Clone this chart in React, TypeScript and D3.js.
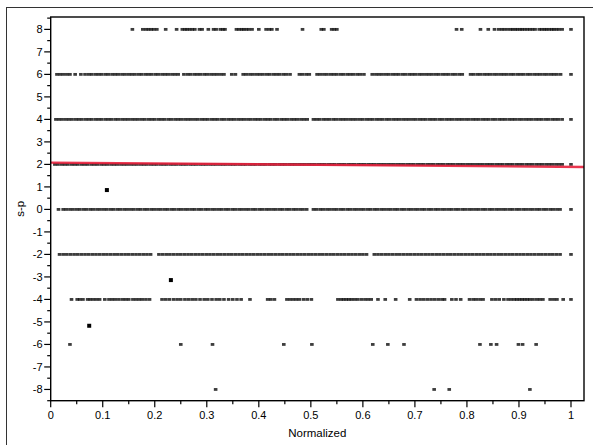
import React from "react";
import * as d3 from "d3";

// Observations at each integer level of s-p (x = normalized position)
const row8 = [0.157,0.177,0.183,0.188,0.193,0.198,0.204,0.221,0.242,0.253,0.258,0.262,0.267,0.272,0.277,0.286,0.291,0.303,0.313,0.318,0.326,0.331,0.335,0.357,0.362,0.367,0.371,0.376,0.381,0.387,0.400,0.414,0.420,0.425,0.435,0.484,0.520,0.525,0.540,0.545,0.550,0.780,0.790,0.826,0.841,0.853,0.861,0.867,0.872,0.878,0.884,0.888,0.893,0.897,0.902,0.906,0.911,0.916,0.921,0.926,0.931,0.939,0.944,0.949,0.953,0.958,0.963,0.967,0.972,0.977,0.983,1.0];

const row6 = [0.012,0.018,0.024,0.031,0.037,0.047,0.058,0.066,0.073,0.079,0.086,0.092,0.098,0.105,0.111,0.118,0.124,0.130,0.137,0.143,0.150,0.156,0.162,0.169,0.175,0.182,0.188,0.194,0.201,0.207,0.214,0.220,0.226,0.233,0.239,0.245,0.256,0.263,0.269,0.276,0.282,0.288,0.295,0.301,0.308,0.314,0.320,0.327,0.333,0.348,0.355,0.370,0.376,0.383,0.389,0.396,0.402,0.408,0.415,0.421,0.428,0.434,0.440,0.447,0.453,0.460,0.478,0.484,0.491,0.497,0.512,0.518,0.525,0.531,0.538,0.544,0.550,0.557,0.563,0.570,0.576,0.582,0.589,0.595,0.602,0.618,0.625,0.631,0.637,0.644,0.650,0.657,0.663,0.669,0.676,0.682,0.689,0.695,0.701,0.708,0.714,0.721,0.727,0.733,0.740,0.746,0.753,0.759,0.765,0.772,0.778,0.785,0.791,0.807,0.813,0.820,0.826,0.833,0.839,0.845,0.852,0.858,0.865,0.871,0.877,0.884,0.890,0.897,0.903,0.909,0.916,0.922,0.929,0.935,0.941,0.948,0.954,0.961,0.967,0.973,0.980,1.0];

const row4 = [0.010,0.016,0.022,0.029,0.035,0.041,0.048,0.054,0.060,0.067,0.073,0.079,0.086,0.092,0.098,0.105,0.111,0.117,0.124,0.130,0.137,0.143,0.149,0.156,0.162,0.168,0.175,0.181,0.188,0.194,0.200,0.207,0.213,0.219,0.226,0.232,0.239,0.245,0.251,0.258,0.264,0.270,0.277,0.283,0.290,0.296,0.302,0.309,0.315,0.321,0.328,0.334,0.341,0.347,0.353,0.360,0.366,0.372,0.379,0.385,0.392,0.398,0.404,0.411,0.417,0.423,0.430,0.436,0.443,0.449,0.455,0.462,0.468,0.474,0.481,0.487,0.493,0.505,0.511,0.517,0.524,0.530,0.536,0.543,0.549,0.556,0.562,0.568,0.575,0.581,0.587,0.594,0.600,0.607,0.613,0.619,0.626,0.632,0.638,0.645,0.651,0.658,0.664,0.670,0.677,0.683,0.689,0.696,0.702,0.709,0.715,0.721,0.728,0.734,0.740,0.747,0.753,0.760,0.766,0.772,0.779,0.785,0.791,0.798,0.804,0.811,0.817,0.823,0.830,0.836,0.842,0.849,0.855,0.862,0.868,0.874,0.881,0.887,0.893,0.900,0.906,0.913,0.919,0.925,0.932,0.938,0.944,0.951,0.957,0.964,0.970,0.976,0.983,1.0];

const row2 = [0.008,0.014,0.021,0.027,0.033,0.040,0.046,0.052,0.059,0.065,0.071,0.078,0.084,0.090,0.097,0.103,0.109,0.116,0.122,0.128,0.135,0.141,0.147,0.154,0.160,0.166,0.173,0.179,0.185,0.192,0.198,0.204,0.211,0.217,0.223,0.230,0.236,0.242,0.249,0.255,0.261,0.268,0.274,0.280,0.287,0.293,0.299,0.306,0.312,0.318,0.325,0.331,0.337,0.344,0.350,0.356,0.363,0.369,0.375,0.382,0.388,0.394,0.401,0.407,0.413,0.420,0.426,0.432,0.439,0.445,0.451,0.458,0.464,0.470,0.477,0.483,0.489,0.496,0.502,0.508,0.515,0.521,0.527,0.534,0.540,0.546,0.553,0.559,0.565,0.572,0.578,0.584,0.591,0.597,0.603,0.610,0.616,0.622,0.629,0.635,0.641,0.648,0.654,0.660,0.667,0.673,0.679,0.686,0.692,0.698,0.705,0.711,0.717,0.724,0.730,0.736,0.743,0.749,0.755,0.762,0.768,0.774,0.781,0.787,0.793,0.800,0.806,0.812,0.819,0.825,0.831,0.838,0.844,0.850,0.857,0.863,0.869,0.876,0.882,0.888,0.895,0.901,0.907,0.914,0.920,0.926,0.933,0.939,0.945,0.952,0.958,0.964,0.971,0.977,0.983,1.0];

const row0 = [0.015,0.024,0.030,0.037,0.043,0.050,0.056,0.063,0.069,0.076,0.082,0.089,0.095,0.102,0.108,0.115,0.121,0.128,0.134,0.141,0.147,0.154,0.160,0.167,0.173,0.180,0.186,0.193,0.199,0.206,0.212,0.219,0.225,0.232,0.238,0.245,0.251,0.258,0.264,0.271,0.277,0.284,0.290,0.297,0.303,0.310,0.316,0.323,0.329,0.336,0.342,0.349,0.355,0.362,0.368,0.375,0.381,0.388,0.394,0.401,0.407,0.414,0.420,0.427,0.433,0.440,0.446,0.453,0.459,0.466,0.472,0.479,0.485,0.492,0.505,0.511,0.518,0.524,0.531,0.537,0.544,0.550,0.557,0.563,0.570,0.576,0.583,0.589,0.596,0.602,0.609,0.615,0.622,0.628,0.635,0.641,0.648,0.654,0.661,0.667,0.674,0.680,0.687,0.693,0.700,0.706,0.713,0.719,0.726,0.732,0.739,0.745,0.752,0.758,0.765,0.771,0.778,0.784,0.791,0.797,0.804,0.810,0.817,0.823,0.830,0.836,0.843,0.849,0.856,0.862,0.869,0.875,0.882,0.888,0.895,0.901,0.908,0.914,0.921,0.927,0.934,0.940,0.947,0.953,0.960,0.966,0.973,0.979,1.0];

const rowM2 = [0.017,0.024,0.031,0.038,0.045,0.052,0.059,0.066,0.073,0.080,0.087,0.094,0.101,0.108,0.115,0.122,0.129,0.136,0.143,0.150,0.157,0.164,0.171,0.178,0.185,0.192,0.208,0.215,0.222,0.229,0.236,0.243,0.250,0.257,0.264,0.271,0.278,0.285,0.292,0.299,0.306,0.313,0.320,0.327,0.334,0.341,0.348,0.355,0.362,0.369,0.376,0.383,0.390,0.397,0.404,0.411,0.418,0.425,0.432,0.439,0.446,0.453,0.460,0.467,0.474,0.481,0.488,0.495,0.502,0.509,0.516,0.523,0.530,0.537,0.544,0.551,0.558,0.565,0.572,0.579,0.586,0.593,0.600,0.607,0.622,0.629,0.636,0.643,0.650,0.657,0.664,0.671,0.678,0.685,0.692,0.699,0.706,0.713,0.720,0.727,0.734,0.741,0.748,0.755,0.762,0.769,0.776,0.783,0.790,0.797,0.804,0.811,0.818,0.825,0.832,0.839,0.846,0.853,0.860,0.867,0.874,0.881,0.888,0.895,0.902,0.909,0.916,0.923,0.930,0.937,0.944,0.951,0.958,0.965,0.972,0.979,1.0];

const rowM4 = [0.040,0.051,0.056,0.062,0.071,0.076,0.082,0.088,0.094,0.104,0.112,0.118,0.124,0.131,0.138,0.144,0.150,0.158,0.164,0.170,0.176,0.183,0.190,0.214,0.221,0.228,0.236,0.243,0.250,0.258,0.265,0.272,0.279,0.287,0.295,0.302,0.310,0.318,0.325,0.333,0.342,0.350,0.358,0.366,0.383,0.417,0.423,0.430,0.454,0.460,0.466,0.472,0.478,0.486,0.493,0.501,0.552,0.558,0.563,0.568,0.573,0.578,0.584,0.590,0.597,0.604,0.610,0.616,0.629,0.643,0.663,0.690,0.703,0.710,0.717,0.724,0.731,0.738,0.745,0.752,0.757,0.771,0.779,0.788,0.805,0.812,0.818,0.825,0.831,0.848,0.855,0.862,0.871,0.879,0.885,0.891,0.896,0.901,0.906,0.911,0.916,0.921,0.927,0.934,0.940,0.946,0.960,0.967,0.973,0.985,1.0];

const rowM6 = [0.037,0.250,0.311,0.448,0.502,0.619,0.648,0.679,0.825,0.846,0.857,0.899,0.907,0.933];

const rowM8 = [0.317,0.737,0.766,0.921];

const levels: [number, number[]][] = [
  [8, row8], [6, row6], [4, row4], [2, row2], [0, row0],
  [-2, rowM2], [-4, rowM4], [-6, rowM6], [-8, rowM8],
];

// Off-level observations shown as larger markers
const markerX = [0.108, 0.231, 0.074];
const markerY = [0.86, -3.14, -5.17];

// Fitted trend line
const fitX = [0, 1.025];
const fitY = [2.08, 1.885];

const xTicks = [0, 0.1, 0.2, 0.3, 0.4, 0.5, 0.6, 0.7, 0.8, 0.9, 1];
const xMinor = [0.05, 0.15, 0.25, 0.35, 0.45, 0.55, 0.65, 0.75, 0.85, 0.95];
const yTicks = [-8, -7, -6, -5, -4, -3, -2, -1, 0, 1, 2, 3, 4, 5, 6, 7, 8];
const yMinor = [-8.5, -7.5, -6.5, -5.5, -4.5, -3.5, -2.5, -1.5, -0.5, 0.5, 1.5, 2.5, 3.5, 4.5, 5.5, 6.5, 7.5, 8.5];

const W = 593;
const H = 445;
const left = 50.7;
const right = 584;
const top = 17;
const bottom = 400.7;
const font = "'Liberation Sans', Arial, sans-serif";

export default function App() {
  const x = d3.scaleLinear().domain([0, 1.025]).range([left, right]);
  const y = d3.scaleLinear().domain([-8.5, 8.55]).range([bottom, top]);
  const fitLine = d3
    .line<number>()
    .x((_, i) => x(fitX[i]))
    .y((d) => y(d));

  const dotW = 3.6;
  const dotH = 2.8;
  const sq = 4;

  return (
    <svg
      width={W}
      height={H}
      style={{ position: "absolute", left: 0, top: 0, background: "#fff" }}
      fontFamily={font}
    >
      {/* outer frame */}
      <rect x={6.5} y={7.5} width={W + 10} height={H + 10} fill="none" stroke="#333" strokeWidth={1} />

      {/* data points */}
      <g fill="#111" fillOpacity={0.82}>
        {levels.map(([lv, xs]) =>
          xs.map((v, i) => (
            <rect key={`${lv}-${i}`} x={x(v) - dotW / 2} y={y(lv) - dotH / 2} width={dotW} height={dotH} />
          ))
        )}
      </g>
      {markerX.map((v, i) => (
        <rect key={`m${i}`} x={x(v) - sq / 2} y={y(markerY[i]) - sq / 2} width={sq} height={sq} fill="#000" />
      ))}

      {/* trend line */}
      <path d={fitLine(fitY) || ""} fill="none" stroke="#e8203c" strokeWidth={2.4} strokeOpacity={0.9} />

      {/* plot frame */}
      <rect x={left} y={top} width={right - left} height={bottom - top} fill="none" stroke="#000" strokeWidth={1.4} />

      {/* x axis */}
      <g stroke="#000" strokeWidth={1.2}>
        {xTicks.map((t) => (
          <line key={`xt${t}`} x1={x(t)} x2={x(t)} y1={bottom} y2={bottom + 6.5} />
        ))}
        {xMinor.map((t) => (
          <line key={`xm${t}`} x1={x(t)} x2={x(t)} y1={bottom} y2={bottom + 3.5} />
        ))}
      </g>
      <g fontSize={11} textAnchor="middle" fill="#000">
        {xTicks.map((t) => (
          <text key={`xl${t}`} x={x(t)} y={419}>
            {String(t)}
          </text>
        ))}
      </g>
      <text x={(left + right) / 2} y={436.5} fontSize={11.5} textAnchor="middle" fill="#000">
        Normalized
      </text>

      {/* y axis */}
      <g stroke="#000" strokeWidth={1.2}>
        {yTicks.map((t) => (
          <line key={`yt${t}`} x1={left - 6.5} x2={left} y1={y(t)} y2={y(t)} />
        ))}
        {yMinor.map((t) => (
          <line key={`ym${t}`} x1={left - 3.5} x2={left} y1={y(t)} y2={y(t)} />
        ))}
      </g>
      <g fontSize={11} textAnchor="end" fill="#000">
        {yTicks.map((t) => (
          <text key={`yl${t}`} x={42.5} y={y(t) + 4}>
            {String(t)}
          </text>
        ))}
      </g>
      <text
        transform={`translate(24.3, ${(top + bottom) / 2}) rotate(-90)`}
        fontSize={11.5}
        textAnchor="middle"
        fill="#000"
      >
        s-p
      </text>
    </svg>
  );
}
